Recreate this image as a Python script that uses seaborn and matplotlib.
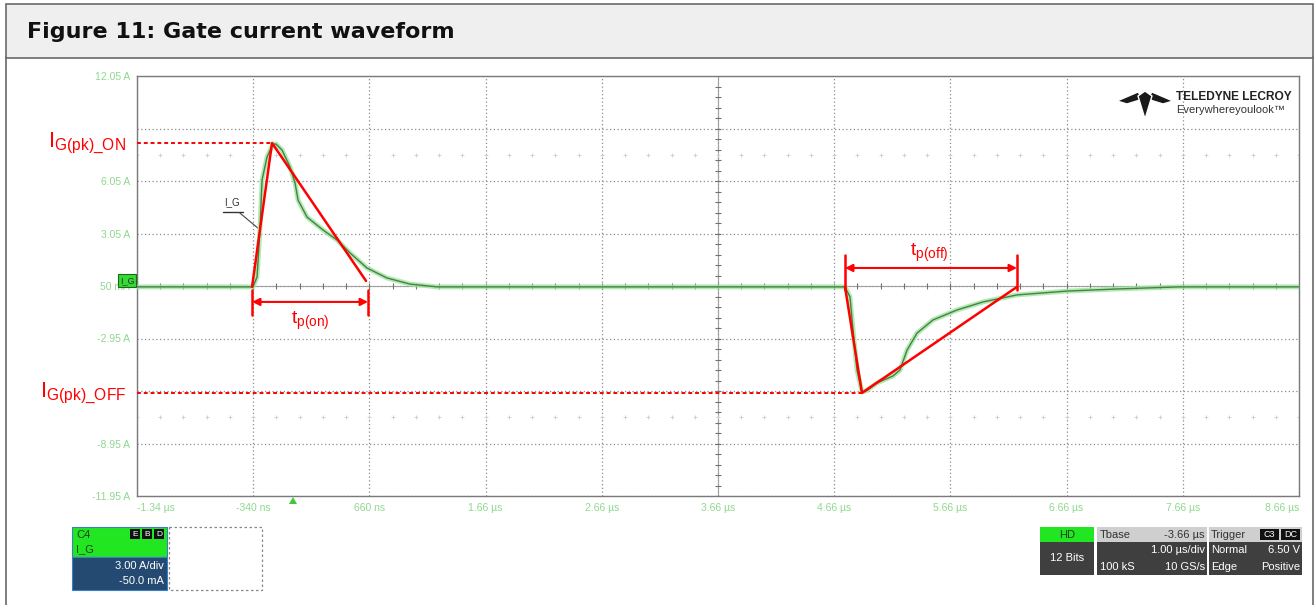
import numpy as np
import pandas as pd
import matplotlib
matplotlib.use("Agg")
import matplotlib.pyplot as plt
import seaborn as sns
from matplotlib.patches import Rectangle, Polygon

# Gate current trace (time in us, current in A)
t_us = [-1.34, -0.342, -0.307, -0.282, -0.264, -0.221, -0.170, -0.144, -0.092,
        -0.023, 0.020, 0.046, 0.123, 0.261, 0.381, 0.493, 0.639, 0.811, 1.009,
        1.242, 2.50, 4.753, 4.796, 4.822, 4.856, 4.899, 4.934, 5.028, 5.166,
        5.226, 5.287, 5.373, 5.510, 5.717, 5.941, 6.233, 6.664, 7.094, 7.636, 8.66]
i_gate = [0.0, 0.0, 0.56, 3.25, 6.10, 7.42, 8.16, 8.16, 7.82,
          6.85, 5.94, 4.96, 3.99, 3.25, 2.68, 1.94, 1.08, 0.51, 0.16,
          0.0, 0.0, 0.0, -0.58, -2.46, -4.75, -6.00, -5.95, -5.49, -5.09,
          -4.75, -3.61, -2.64, -1.89, -1.32, -0.86, -0.46, -0.24, -0.12, 0.0, 0.0]

# red construction lines (us, A)
on_tri_t = [-0.35, -0.178, 0.631]
on_tri_i = [0.0, 8.22, 0.34]
off_tri_t = [4.753, 4.899, 6.233]
off_tri_i = [0.0, -6.06, 0.0]
ig_pk_on = 8.22
ig_pk_off = -6.06
tp_on = [-0.35, 0.648]
tp_off = [4.753, 6.233]

x_ticks = [-1.34, -0.34, 0.66, 1.66, 2.66, 3.66, 4.66, 5.66, 6.66, 7.66, 8.66]
x_labels = ["-1.34 µs", "-340 ns", "660 ns", "1.66 µs", "2.66 µs", "3.66 µs",
            "4.66 µs", "5.66 µs", "6.66 µs", "7.66 µs", "8.66 µs"]
y_ticks = [12.05, 9.05, 6.05, 3.05, 0.05, -2.95, -5.95, -8.95, -11.95]
y_labels = ["12.05 A", "", "6.05 A", "3.05 A", "50 mA", "-2.95 A", "", "-8.95 A", "-11.95 A"]

df = pd.DataFrame({"t": t_us, "i": i_gate})

sns.set_style("white")
plt.rcParams["font.family"] = ["Liberation Sans", "DejaVu Sans"]
plt.rcParams["mathtext.fontset"] = "custom"
plt.rcParams["mathtext.rm"] = "Liberation Sans"
plt.rcParams["mathtext.it"] = "Liberation Sans"

fig = plt.figure(figsize=(13.14, 6.05), dpi=100)
W, H = 1314, 605
ax = fig.add_axes([137 / W, 1 - 496 / H, 1162 / W, 420 / H])

# trace: green glow with darker core
sns.lineplot(data=df, x="t", y="i", ax=ax, color="#9be69b", lw=3.5, alpha=0.8, sort=False, zorder=3)
sns.lineplot(data=df, x="t", y="i", ax=ax, color="#4a7f4a", lw=1, sort=False, zorder=4)

ax.set_xlim(-1.34, 8.66)
ax.set_ylim(-11.95, 12.05)
ax.set_xticks(x_ticks)
ax.set_xticklabels(x_labels)
ax.set_yticks(y_ticks)
ax.set_yticklabels(y_labels)
ax.set_xlabel("")
ax.set_ylabel("")
ax.tick_params(length=0, labelsize=7.5, labelcolor="#8fd88f", pad=5)
for k, lab in enumerate(ax.get_xticklabels()):
    if k == 0:
        lab.set_ha("left")
    elif k == len(x_ticks) - 1:
        lab.set_ha("right")
ax.grid(True, linestyle=(0, (1, 2)), color="#8c8c8c", lw=0.9)
for s in ax.spines.values():
    s.set_color("#7a7a7a")
    s.set_linewidth(1)

# centre cross with fine ticks
ax.axhline(0.05, color="#a0a0a0", lw=0.8, zorder=1)
ax.axvline(3.66, color="#a0a0a0", lw=0.8, zorder=1)
fine_x = np.arange(-1.34, 8.67, 0.2)
fine_y = np.arange(-11.95, 12.06, 0.6)
ax.plot(fine_x, np.full(len(fine_x), 0.05), ls="none", marker="|", ms=5, color="#707070", mew=0.8, zorder=2)
ax.plot(np.full(len(fine_y), 3.66), fine_y, ls="none", marker="_", ms=5, color="#707070", mew=0.8, zorder=2)
for yy in [7.55, -7.45]:
    ax.plot(fine_x, np.full(len(fine_x), yy), ls="none", marker="+", ms=3.5, color="#cccccc", mew=0.6, zorder=2)

# red construction
red = "#ff0000"
ax.plot(on_tri_t, on_tri_i, color=red, lw=1.8, zorder=6)
ax.plot(off_tri_t, off_tri_i, color=red, lw=1.8, zorder=6)
ax.plot([-1.34, on_tri_t[1]], [ig_pk_on, ig_pk_on], color=red, lw=1.4, ls=(0, (2, 1.5)), zorder=6)
ax.plot([-1.34, off_tri_t[1]], [ig_pk_off, ig_pk_off], color=red, lw=1.4, ls=(0, (2, 1.5)), zorder=6)
for tt in tp_on:
    ax.plot([tt, tt], [-0.18, -1.61], color=red, lw=1.8, zorder=6)
for tt in tp_off:
    ax.plot([tt, tt], [1.82, -0.18], color=red, lw=1.8, zorder=6)
arrow = dict(arrowstyle="<|-|>", color=red, lw=1.5, mutation_scale=11, shrinkA=0, shrinkB=0)
ax.annotate("", xy=(tp_on[0], -0.86), xytext=(tp_on[1], -0.86), arrowprops=arrow, zorder=6)
ax.annotate("", xy=(tp_off[0], 1.08), xytext=(tp_off[1], 1.08), arrowprops=arrow, zorder=6)
ax.text(0.15, -1.95, r"$\mathregular{t_{p(on)}}$", color=red, fontsize=14, ha="center", va="center")
ax.text(5.48, 1.95, r"$\mathregular{t_{p(off)}}$", color=red, fontsize=14, ha="center", va="center")
ax.text(-1.435, ig_pk_on, r"$\mathregular{I_{G(pk)\_ON}}$", color=red, fontsize=16,
        ha="right", va="center", clip_on=False)
ax.text(-1.435, ig_pk_off, r"$\mathregular{I_{G(pk)\_OFF}}$", color=red, fontsize=16,
        ha="right", va="center", clip_on=False)

# trace label with leader
ax.text(-0.52, 4.55, "I_G", fontsize=7, color="#333333", ha="center", va="bottom")
ax.plot([-0.60, -0.43], [4.30, 4.30], color="#333333", lw=1)
ax.plot([-0.46, -0.30], [4.25, 3.36], color="#444444", lw=0.8)

# overlay for page furniture (pixel coordinates)
deco = fig.add_axes([0, 0, 1, 1], zorder=5)
deco.set_xlim(0, W)
deco.set_ylim(H, 0)
deco.axis("off")
deco.patch.set_alpha(0)

deco.add_patch(Rectangle((5.5, 3.5), 1307, 54, facecolor="#efefef", edgecolor="#6a6a6a", lw=1.2))
deco.plot([5.5, 5.5], [57, 605], color="#6a6a6a", lw=1.2)
deco.plot([1312.5, 1312.5], [57, 605], color="#6a6a6a", lw=1.2)
deco.text(27, 32, "Figure 11: Gate current waveform", fontsize=16, fontweight="bold",
          family="DejaVu Sans", color="#111111", va="center", ha="left")

# channel tag on the left edge
deco.add_patch(Rectangle((118, 274), 18, 13, facecolor="#36d936", edgecolor="#1a6a1a", lw=0.8))
deco.text(127, 280.5, "I_G", fontsize=6.5, color="#1a3a1a", ha="center", va="center")
# trigger marker
deco.add_patch(Polygon([[289, 504], [297, 504], [293, 497]], closed=True, facecolor="#3ec83e", edgecolor="none"))

# logo
deco.add_patch(Polygon([[1117, 101], [1138, 92], [1143, 99], [1127, 104]], facecolor="#1a1a1a"))
deco.add_patch(Polygon([[1173, 101], [1152, 92], [1147, 99], [1163, 104]], facecolor="#1a1a1a"))
deco.add_patch(Polygon([[1138, 96], [1145, 91], [1152, 96], [1145, 119]], facecolor="#1a1a1a"))
deco.text(1176, 97, "TELEDYNE LECROY", fontsize=8.6, fontweight="bold", color="#222222", va="center")
deco.text(1176, 110, "Everywhereyoulook™", fontsize=8, color="#333333", va="center")

# channel descriptor box
deco.add_patch(Rectangle((72, 527), 95, 30, facecolor="#22e622", edgecolor="#3a7fc0", lw=0.8))
deco.add_patch(Rectangle((72, 557), 95, 33, facecolor="#244a72", edgecolor="#3a7fc0", lw=0.8))
deco.text(76, 535, "C4", fontsize=8, color="#1f3f1f", va="center")
deco.text(76, 549, "I_G", fontsize=8, color="#1f3f1f", va="center")
for bx, lt in zip([130, 142, 154], ["E", "B", "D"]):
    deco.add_patch(Rectangle((bx, 529), 10, 10, facecolor="#111111", edgecolor="none"))
    deco.text(bx + 5, 534, lt, fontsize=6, color="white", ha="center", va="center")
deco.text(164, 566, "3.00 A/div", fontsize=8, color="white", ha="right", va="center")
deco.text(164, 581, "-50.0 mA", fontsize=8, color="white", ha="right", va="center")
deco.add_patch(Rectangle((169, 527), 93, 63, facecolor="none", edgecolor="#888888", lw=0.9, ls=(0, (2, 2))))

# acquisition boxes
deco.add_patch(Rectangle((1040, 527), 54, 15, facecolor="#22e622", edgecolor="none"))
deco.add_patch(Rectangle((1040, 542), 54, 33, facecolor="#3f3f3f", edgecolor="none"))
deco.text(1067, 534.5, "HD", fontsize=8, color="#1f3f1f", ha="center", va="center")
deco.text(1067, 558, "12 Bits", fontsize=8, color="white", ha="center", va="center")

deco.add_patch(Rectangle((1097, 527), 110, 15, facecolor="#cfcfcf", edgecolor="none"))
deco.add_patch(Rectangle((1097, 542), 110, 33, facecolor="#3f3f3f", edgecolor="none"))
deco.text(1100, 534.5, "Tbase", fontsize=8, color="#333333", va="center")
deco.text(1205, 534.5, "-3.66 µs", fontsize=8, color="#333333", ha="right", va="center")
deco.text(1205, 550, "1.00 µs/div", fontsize=8, color="white", ha="right", va="center")
deco.text(1100, 567, "100 kS", fontsize=8, color="white", va="center")
deco.text(1205, 567, "10 GS/s", fontsize=8, color="white", ha="right", va="center")

deco.add_patch(Rectangle((1209, 527), 93, 15, facecolor="#cfcfcf", edgecolor="none"))
deco.add_patch(Rectangle((1209, 542), 93, 33, facecolor="#3f3f3f", edgecolor="none"))
deco.text(1211, 534.5, "Trigger", fontsize=8, color="#333333", va="center")
for bx, lt in zip([1260, 1281], ["C3", "DC"]):
    deco.add_patch(Rectangle((bx, 529), 19, 11, facecolor="#111111", edgecolor="none"))
    deco.text(bx + 9.5, 534.5, lt, fontsize=6.5, color="white", ha="center", va="center")
deco.text(1211, 550, "Normal", fontsize=8, color="white", va="center")
deco.text(1300, 550, "6.50 V", fontsize=8, color="white", ha="right", va="center")
deco.text(1211, 567, "Edge", fontsize=8, color="white", va="center")
deco.text(1300, 567, "Positive", fontsize=8, color="white", ha="right", va="center")

fig.savefig("out.png", dpi=100)
